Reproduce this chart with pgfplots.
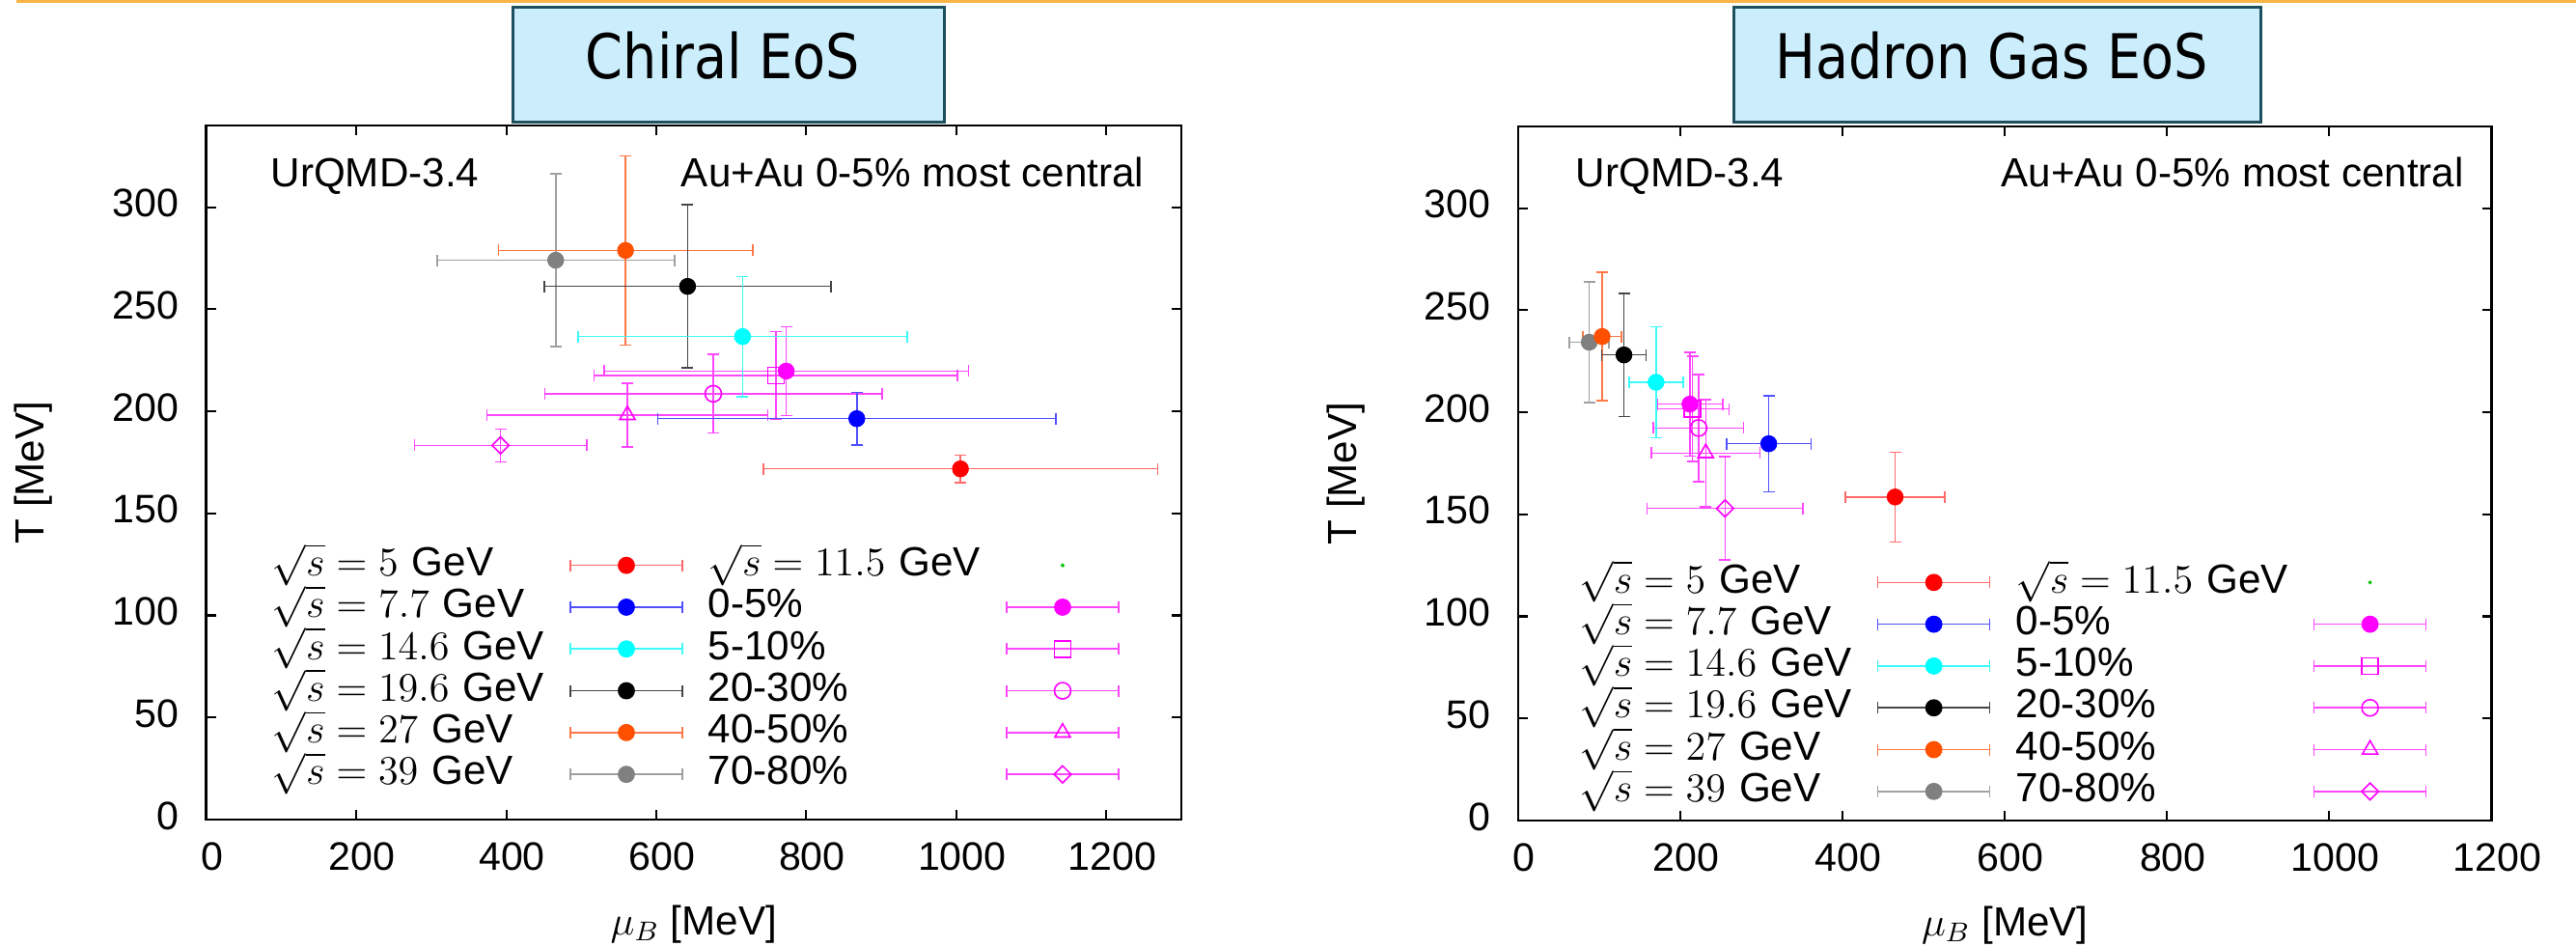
\documentclass[border=0pt]{standalone}
\usepackage{fontspec}
\setmainfont{Liberation Sans}
\newfontfamily\titlefont[FakeStretch=0.87]{DejaVu Sans}
\usepackage{pgfplots}
\pgfplotsset{compat=1.18}

\definecolor{cRed}{RGB}{255,0,0}
\definecolor{cRedL}{RGB}{255,105,105}
\definecolor{cBlue}{RGB}{0,0,255}
\definecolor{cBlueL}{RGB}{80,80,255}
\definecolor{cCyan}{RGB}{0,255,255}
\definecolor{cCyanL}{RGB}{60,250,250}
\definecolor{cBlack}{RGB}{0,0,0}
\definecolor{cBlackL}{RGB}{70,70,70}
\definecolor{cOrange}{RGB}{255,80,0}
\definecolor{cOrangeL}{RGB}{255,120,70}
\definecolor{cGray}{RGB}{128,128,128}
\definecolor{cGrayL}{RGB}{160,160,160}
\definecolor{cMag}{RGB}{255,0,255}
\definecolor{cMagL}{RGB}{255,70,255}
\definecolor{cGreen}{RGB}{0,200,0}
\definecolor{strip}{RGB}{251,180,70}
\definecolor{boxfill}{RGB}{204,238,252}
\definecolor{boxline}{RGB}{30,80,95}

\pgfplotsset{
  ebf/.style 2 args={only marks, mark=*, mark size=0.82mm,
    mark options={draw=#1, fill=#1, line width=0.3pt},
    error bars/.cd, x dir=both, x explicit, y dir=both, y explicit,
    error bar style={draw=#2, line width=0.45pt},
    error mark options={rotate=90, draw=#2, mark size=0.6mm, line width=0.45pt}},
  ebo/.style n args={3}{only marks, mark=#1, mark size=#2,
    mark options={draw=cMag, fill=none, line width=0.45pt, #3},
    error bars/.cd, x dir=both, x explicit, y dir=both, y explicit,
    error bar style={draw=cMagL, line width=0.45pt},
    error mark options={rotate=90, draw=cMagL, mark size=0.6mm, line width=0.45pt}},
  pan/.style={scale only axis, ymin=0, ymax=340, xmin=0,
    xtick={0,200,...,1200}, ytick={0,50,...,300},
    tick align=inside, major tick length=1mm, minor tick num=0,
    axis line style={line width=0.75pt},
    tick style={black, line width=0.6pt},
    ticklabel style={font=\fontsize{11.7}{14}\selectfont},
    /pgf/number format/assume math mode=true,
    /pgf/number format/1000 sep={},
    xticklabel style={anchor=base, yshift=-5.27mm, xshift=0.6mm},
    yticklabel style={anchor=east, inner sep=0pt, xshift=-2.77mm, yshift=0.4mm},
    every axis x label/.style={at={(rel axis cs:0.5,-0.1655)}, anchor=base, font=\fontsize{12}{14}\selectfont},
    every axis y label/.style={at={(rel axis cs:-0.166,0.5)}, rotate=90, anchor=base, font=\fontsize{12}{14}\selectfont},
    xlabel={$\mu_B$ [MeV]}, ylabel={T [MeV]},
    legend columns=2, legend plot pos=right, legend cell align=left,
  },
  lgst/.style={legend style={draw=none, fill=none, inner sep=0pt, outer sep=0pt,
    row sep=0pt, column sep=0pt,
    nodes={inner sep=0pt, text width=28.3mm, text height=3.24mm, text depth=1.09mm,
      font=\fontsize{12}{14}\selectfont}}}
}

\newcommand{\lgimg}[2]{%
  \addlegendimage{legend image code/.code={%
    \path[draw=none, fill=none] (-2.6mm,0) rectangle (14.3mm,0.01mm);
    \draw[#1, line width=0.45pt] (0,0) -- (11.6mm,0) (0,-0.6mm) -- (0,0.6mm) (11.6mm,-0.6mm) -- (11.6mm,0.6mm);
    #2
  }}}

\newcommand{\legendall}{%
  \lgimg{cRedL}{\fill[cRed] (5.8mm,0) circle (0.82mm);}
  \addlegendentry{$\sqrt{s}=5$ GeV}
  \lgimg{draw=none}{\fill[cGreen] (5.8mm,0) circle (0.12mm);}
  \addlegendentry{$\sqrt{s}=11.5$ GeV}
  \lgimg{cBlueL}{\fill[cBlue] (5.8mm,0) circle (0.82mm);}
  \addlegendentry{$\sqrt{s}=7.7$ GeV}
  \lgimg{cMagL}{\fill[cMag] (5.8mm,0) circle (0.82mm);}
  \addlegendentry{0-5\%}
  \lgimg{cCyanL}{\fill[cCyan] (5.8mm,0) circle (0.82mm);}
  \addlegendentry{$\sqrt{s}=14.6$ GeV}
  \lgimg{cMagL}{\draw[cMag, line width=0.45pt] (4.95mm,-0.85mm) rectangle (6.65mm,0.85mm);}
  \addlegendentry{5-10\%}
  \lgimg{cBlackL}{\fill[cBlack] (5.8mm,0) circle (0.82mm);}
  \addlegendentry{$\sqrt{s}=19.6$ GeV}
  \lgimg{cMagL}{\draw[cMag, line width=0.45pt] (5.8mm,0) circle (0.85mm);}
  \addlegendentry{20-30\%}
  \lgimg{cOrangeL}{\fill[cOrange] (5.8mm,0) circle (0.82mm);}
  \addlegendentry{$\sqrt{s}=27$ GeV}
  \lgimg{cMagL}{\draw[cMag, line width=0.45pt] (5.8mm,0.92mm) -- (5.003mm,-0.46mm) -- (6.597mm,-0.46mm) -- cycle;}
  \addlegendentry{40-50\%}
  \lgimg{cGrayL}{\fill[cGray] (5.8mm,0) circle (0.82mm);}
  \addlegendentry{$\sqrt{s}=39$ GeV}
  \lgimg{cMagL}{\draw[cMag, line width=0.45pt] (5.8mm,0.88mm) -- (6.68mm,0) -- (5.8mm,-0.88mm) -- (4.92mm,0) -- cycle;}
  \addlegendentry{70-80\%}
}

\begin{document}
\begin{tikzpicture}
\useasboundingbox (0,0) rectangle (26.69cm,9.80cm);
\fill[strip] (0.17cm,9.77cm) rectangle (26.69cm,9.80cm);

% title boxes
\draw[line width=0.3mm, draw=boxline, fill=boxfill] (5.31cm,9.73cm) rectangle (9.78cm,8.54cm);
\node[anchor=base, inner sep=0pt, font=\titlefont\fontsize{18.2}{20}\selectfont] at (7.49cm,8.983cm) {Chiral EoS};
\draw[line width=0.3mm, draw=boxline, fill=boxfill] (17.96cm,9.73cm) rectangle (23.42cm,8.54cm);
\node[anchor=base, inner sep=0pt, font=\titlefont\fontsize{18.2}{20}\selectfont] at (20.635cm,8.983cm) {Hadron Gas EoS};

% ---------------- Chiral EoS ----------------
\begin{axis}[pan, lgst, at={(2.137cm,1.31cm)}, anchor=south west,
  width=10.103cm, height=7.19cm, xmax=1300,
  legend style={at={(rel axis cs:0.0676,0.3964)}, anchor=north west}]
% 11.5 GeV centrality classes
\addplot[forget plot, ebf={cMag}{cMagL}] coordinates {(773.2,219.7) +- (243.0,21.8)};
\addplot[forget plot, ebo={square}{0.85mm}{}] coordinates {(759.3,217.5) +- (242.4,21.5)};
\addplot[forget plot, ebo={o}{0.85mm}{}] coordinates {(676.0,208.6) +- (224.8,19.2)};
\addplot[forget plot, ebo={triangle}{0.92mm}{}] coordinates {(561.5,198.2) +- (187.1,15.6)};
\addplot[forget plot, ebo={diamond}{0.88mm}{xscale=1.333}] coordinates {(392.4,183.3) +- (114.8,8.0)};
% energies, most central
\addplot[forget plot, ebf={cGray}{cGrayL}] coordinates {(465.9,274.0) +- (158.2,42.3)};
\addplot[forget plot, ebf={cOrange}{cOrangeL}] coordinates {(559.0,278.8) +- (169.6,46.4)};
\addplot[forget plot, ebf={cBlack}{cBlackL}] coordinates {(641.7,261.2) +- (190.9,40.0)};
\addplot[forget plot, ebf={cCyan}{cCyanL}] coordinates {(715.0,236.6) +- (219.2,29.5)};
\addplot[forget plot, ebf={cBlue}{cBlueL}] coordinates {(867.3,196.4) +- (265.6,12.9)};
\addplot[forget plot, ebf={cRed}{cRedL}] coordinates {(1005.5,171.8) +- (262.8,6.7)};
\legendall
\node[anchor=base west, inner sep=0pt, font=\fontsize{12}{14}\selectfont] at (rel axis cs:0.0656,0.9124) {UrQMD-3.4};
\node[anchor=base east, inner sep=0pt, font=\fontsize{12}{14}\selectfont] at (rel axis cs:0.9624,0.9124) {Au+Au 0-5\% most central};
\end{axis}

% ---------------- Hadron Gas EoS ----------------
\begin{axis}[pan, lgst, at={(15.73cm,1.30cm)}, anchor=south west,
  width=10.085cm, height=7.19cm, xmax=1200,
  legend style={at={(rel axis cs:0.0631,0.3732)}, anchor=north west}]
\addplot[forget plot, ebf={cMag}{cMagL}] coordinates {(211.7,204.0) +- (40.7,25.4)};
\addplot[forget plot, ebo={square}{0.85mm}{}] coordinates {(214.9,201.6) +- (45.2,25.8)};
\addplot[forget plot, ebo={o}{0.85mm}{}] coordinates {(222.4,192.3) +- (55.6,26.2)};
\addplot[forget plot, ebo={triangle}{0.92mm}{}] coordinates {(231.2,180.0) +- (66.8,26.3)};
\addplot[forget plot, ebo={diamond}{0.88mm}{xscale=1.333}] coordinates {(255.0,152.9) +- (96.2,25.3)};
\addplot[forget plot, ebf={cGray}{cGrayL}] coordinates {(87.6,234.3) +- (24.4,29.5)};
\addplot[forget plot, ebf={cOrange}{cOrangeL}] coordinates {(103.5,237.1) +- (23.8,31.5)};
\addplot[forget plot, ebf={cBlack}{cBlackL}] coordinates {(130.4,228.1) +- (27.4,30.1)};
\addplot[forget plot, ebf={cCyan}{cCyanL}] coordinates {(170.0,214.7) +- (33.5,27.2)};
\addplot[forget plot, ebf={cBlue}{cBlueL}] coordinates {(308.9,184.6) +- (52.1,23.5)};
\addplot[forget plot, ebf={cRed}{cRedL}] coordinates {(464.7,158.5) +- (61.1,22.0)};
\legendall
\node[anchor=base west, inner sep=0pt, font=\fontsize{12}{14}\selectfont] at (rel axis cs:0.0585,0.9133) {UrQMD-3.4};
\node[anchor=base east, inner sep=0pt, font=\fontsize{12}{14}\selectfont] at (rel axis cs:0.9723,0.9133) {Au+Au 0-5\% most central};
\end{axis}
\end{tikzpicture}
\end{document}
